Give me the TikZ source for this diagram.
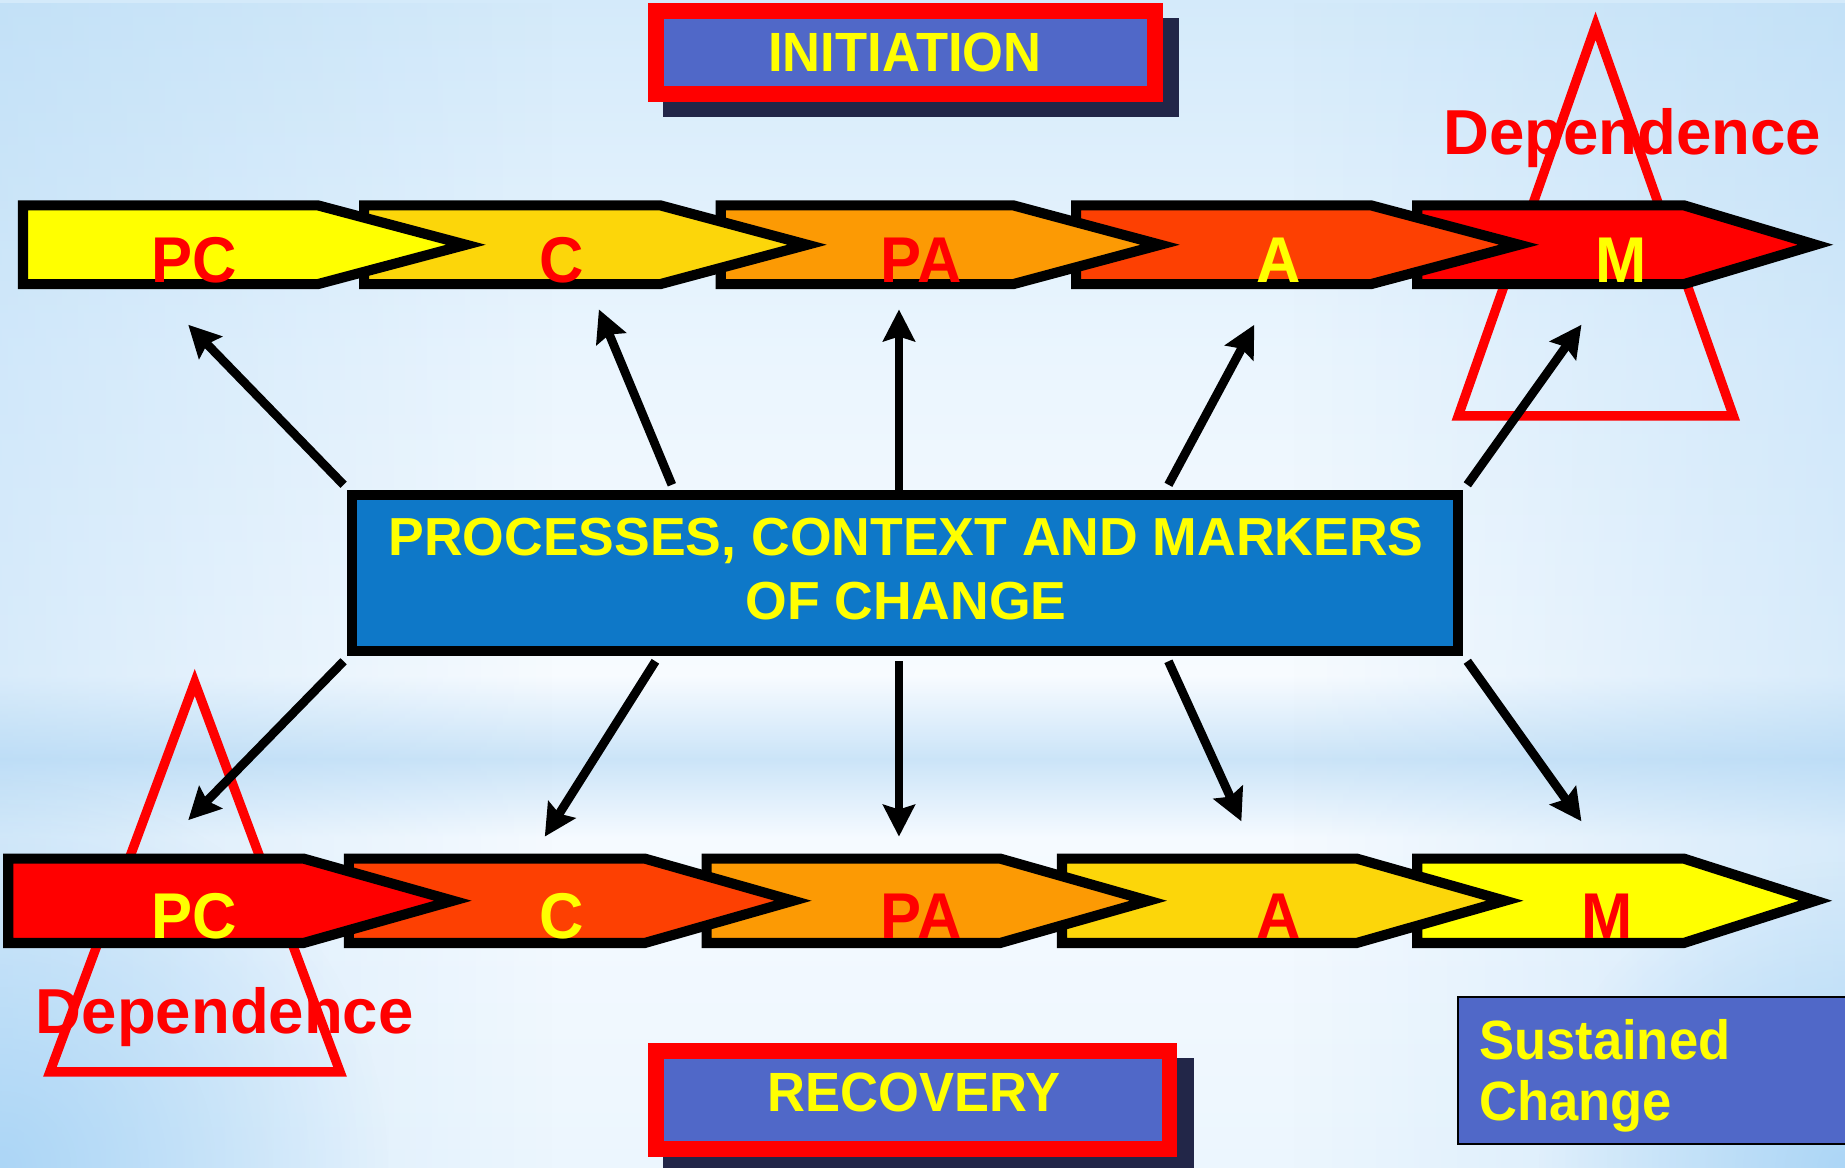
\documentclass[tikz,border=0pt]{standalone}
\usepackage{fontspec}
\setmainfont{Liberation Sans}[FakeStretch=0.95]
\newfontfamily\plainsans{Liberation Sans}
\usetikzlibrary{arrows.meta,fadings}

\definecolor{bgA}{RGB}{212,234,250}
\definecolor{bgB}{RGB}{234,245,254}
\definecolor{bgC}{RGB}{247,251,255}
\definecolor{bgD}{RGB}{203,228,248}
\definecolor{bgE}{RGB}{245,250,255}
\definecolor{bgF}{RGB}{236,246,254}
\definecolor{bgEdge}{RGB}{170,212,244}
\definecolor{bgCorner}{RGB}{160,208,245}
\definecolor{boxblue}{RGB}{80,104,200}
\definecolor{shadowdark}{RGB}{34,38,72}
\definecolor{hubblue}{RGB}{14,120,200}
\definecolor{cyellow}{RGB}{255,255,0}
\definecolor{cgold}{RGB}{252,214,10}
\definecolor{corange}{RGB}{252,154,4}
\definecolor{cvermil}{RGB}{253,64,2}
\definecolor{cred}{RGB}{255,0,0}

\tikzfading[name=fadeleft, left color=transparent!60, right color=transparent!100]
\tikzfading[name=faderight, left color=transparent!100, right color=transparent!60]
\tikzfading[name=glow, inner color=transparent!25, outer color=transparent!100]

\begin{document}
\begin{tikzpicture}[x=1pt,y=-1pt,
  chev/.style={draw=black,line width=8.6pt,line join=miter},
  tri/.style={draw=cred,line width=8pt,line join=miter},
  arr/.style={line width=7.5pt,-{Stealth[length=27pt,width=27pt,inset=4pt]}},
  lbl/.style={font=\bfseries\fontsize{55}{62}\selectfont,inner sep=0pt,anchor=base},
  boxtxt/.style={font=\bfseries\fontsize{47}{54}\selectfont,text=cyellow,inner sep=0pt,anchor=base},
  deptxt/.style={font=\plainsans\bfseries\fontsize{54}{62}\selectfont,text=cred,inner sep=0pt,anchor=base},
  phase/.style={draw=cred,line width=13.5pt,fill=boxblue},
  shadowbox/.style={fill=shadowdark}
]
\useasboundingbox (0,0) rectangle (1568,992);
\begin{scope}
\clip (0,0) rectangle (1568,992);

% background
\shade[top color=bgA,bottom color=bgB] (0,0) rectangle (1568,300);
\shade[top color=bgB,bottom color=bgC] (0,299.5) rectangle (1568,575);
\shade[top color=bgC,bottom color=bgD] (0,574.5) rectangle (1568,645);
\shade[top color=bgD,bottom color=bgE] (0,644.5) rectangle (1568,712);
\shade[top color=bgE,bottom color=bgF] (0,711.5) rectangle (1568,992);
\fill[bgEdge,path fading=fadeleft] (0,0) rectangle (470,992);
\fill[bgEdge,path fading=faderight] (1098,0) rectangle (1568,992);
\fill[bgCorner,path fading=glow] (0,992) circle[radius=330];
\fill[bgCorner,path fading=glow] (1568,992) circle[radius=260];

% phase boxes with drop shadows
\fill[shadowbox] (563.6,15.6) rectangle (1002,99.7);
\draw[phase] (557.4,9.1) rectangle (981.8,79.6);
\node[boxtxt] (init) at (769,61) {INITIATION};

\fill[shadowbox] (563.6,899.4) rectangle (1014.4,1010);
\draw[phase] (557.4,892.9) rectangle (993.9,976.2);
\node[boxtxt] (recov) at (776.5,945) {RECOVERY};

\draw[black,line width=1.7pt,fill=boxblue] (1239.4,847.3) rectangle (1600,972.1);
\node[boxtxt,anchor=base west] (sust) at (1257,900) {Sustained};
\node[boxtxt,anchor=base west] (chg) at (1257,952.4) {Change};

% dependence triangles
\draw[tri] (1356,22) -- (1473.1,353.5) -- (1239.3,353.5) -- cycle;
\draw[tri] (165.5,580) -- (289,911) -- (42.4,911) -- cycle;
\node[deptxt] (dep1) at (1387,131) {Dependence};
\node[deptxt] (dep2) at (191,878) {Dependence};

% top chevron row (drawn right to left so each tip lies over its neighbour)
\draw[chev,fill=cred]    (1204.5,174.5) -- (1431,174.5) -- (1543,208) -- (1431,241.5) -- (1204.5,241.5) -- cycle;
\draw[chev,fill=cvermil] (914.5,174.5) -- (1165,174.5) -- (1291,208) -- (1165,241.5) -- (914.5,241.5) -- cycle;
\draw[chev,fill=corange] (612.5,174.5) -- (861,174.5) -- (986,208) -- (861,241.5) -- (612.5,241.5) -- cycle;
\draw[chev,fill=cgold]   (309.5,174.5) -- (561,174.5) -- (686,208) -- (561,241.5) -- (309.5,241.5) -- cycle;
\draw[chev,fill=cyellow] (19.5,174.5) -- (270,174.5) -- (396,208) -- (270,241.5) -- (19.5,241.5) -- cycle;
\node[lbl,text=cred]    (t1) at (165.4,240) {PC};
\node[lbl,text=cred]    (t2) at (477,240) {C};
\node[lbl,text=cred]    (t3) at (783,240) {PA};
\node[lbl,text=cyellow] (t4) at (1087,240) {A};
\node[lbl,text=cyellow] (t5) at (1378,240) {M};

% bottom chevron row
\draw[chev,fill=cyellow] (1204.5,729.7) -- (1431,729.7) -- (1543,765.5) -- (1431,801.4) -- (1204.5,801.4) -- cycle;
\draw[chev,fill=cgold]   (902.5,729.7) -- (1153,729.7) -- (1279,765.5) -- (1153,801.4) -- (902.5,801.4) -- cycle;
\draw[chev,fill=corange] (600.5,729.7) -- (850,729.7) -- (976,765.5) -- (850,801.4) -- (600.5,801.4) -- cycle;
\draw[chev,fill=cvermil] (296.5,729.7) -- (548,729.7) -- (674,765.5) -- (548,801.4) -- (296.5,801.4) -- cycle;
\draw[chev,fill=cred]    (7,729.7) -- (258,729.7) -- (385,765.5) -- (258,801.4) -- (7,801.4) -- cycle;
\node[lbl,text=cyellow] (b1) at (165.4,797.4) {PC};
\node[lbl,text=cyellow] (b2) at (477,797.4) {C};
\node[lbl,text=cred]    (b3) at (783,797.4) {PA};
\node[lbl,text=cred]    (b4) at (1087,797.4) {A};
\node[lbl,text=cred]    (b5) at (1366,797.4) {M};

% central hub
\node[draw=black,line width=8.6pt,fill=hubblue,minimum width=939.8pt,minimum height=132.5pt,inner sep=0pt] (hub) at (769.4,487.25) {};
\node[font=\plainsans\bfseries\fontsize{45.5}{54}\selectfont,text=cyellow,align=center,inner sep=0pt,anchor=base] (hubtxt) at (770,526.3) {PROCESSES, CONTEXT AND MARKERS\\OF CHANGE};

% arrow end points
\coordinate (u1s) at (292,412);  \coordinate (u1e) at (160,276);
\coordinate (u2s) at (571,412);  \coordinate (u2e) at (509,263);
\coordinate (u3s) at (764,421);  \coordinate (u3e) at (764,263);
\coordinate (u4s) at (993,412);  \coordinate (u4e) at (1066,276);
\coordinate (u5s) at (1247,412); \coordinate (u5e) at (1344,276);
\coordinate (d1s) at (292,562);  \coordinate (d1e) at (160,697);
\coordinate (d2s) at (557,562);  \coordinate (d2e) at (463,711);
\coordinate (d3s) at (764,562);  \coordinate (d3e) at (764,711);
\coordinate (d4s) at (993,562);  \coordinate (d4e) at (1055,698);
\coordinate (d5s) at (1247,562); \coordinate (d5e) at (1344,698);
\foreach \a in {u1,u2,u3,u4,u5,d1,d2,d3,d4,d5}
  \draw[arr] (\a s) -- (\a e);
\end{scope}
\end{tikzpicture}
\end{document}
